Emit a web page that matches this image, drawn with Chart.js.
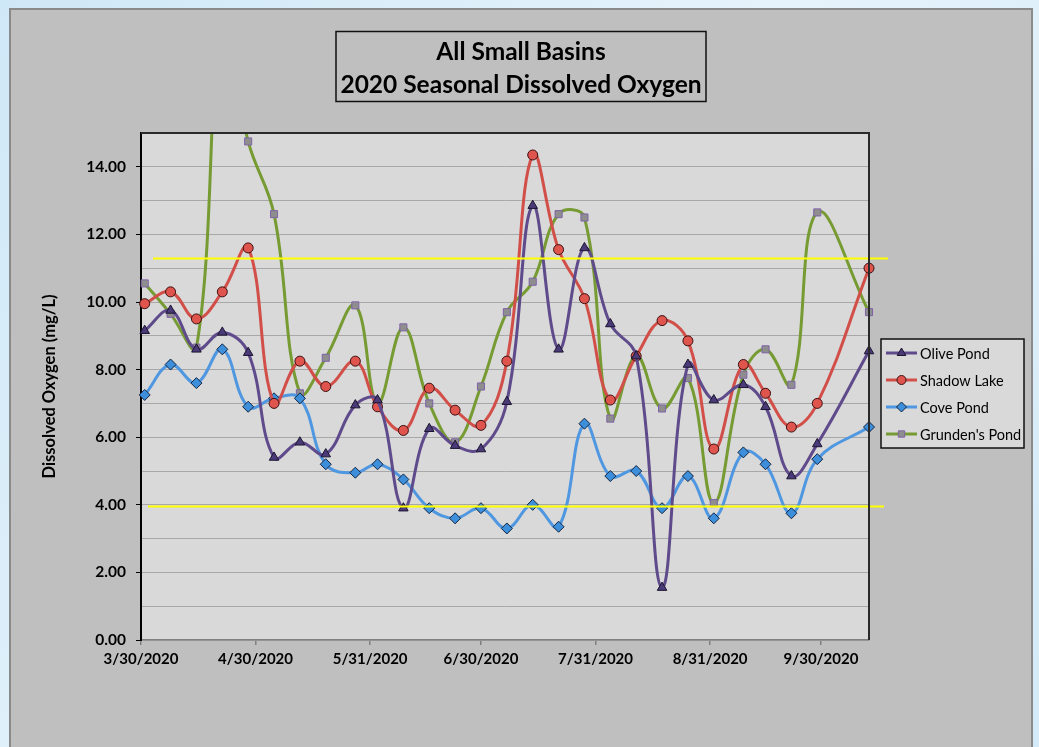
<!DOCTYPE html>
<html><head><meta charset="utf-8">
<script src="https://cdn.jsdelivr.net/npm/chart.js@4/dist/chart.umd.min.js"></script>
<style>html,body{margin:0;padding:0;background:#dceefa;overflow:hidden}</style>
</head><body>
<canvas id="c" width="1039" height="747"></canvas>
<script>
// ---- data ----
const sampleDates = ['2020-03-31','2020-04-07','2020-04-14','2020-04-21','2020-04-28','2020-05-05','2020-05-12','2020-05-19','2020-05-27','2020-06-02','2020-06-09','2020-06-16','2020-06-23','2020-06-30','2020-07-07','2020-07-14','2020-07-21','2020-07-28','2020-08-04','2020-08-11','2020-08-18','2020-08-25','2020-09-01','2020-09-09','2020-09-15','2020-09-22','2020-09-29','2020-10-13'];
const olivePond = [9.15, 9.75, 8.6, 9.1, 8.5, 5.4, 5.85, 5.5, 6.95, 7.1, 3.9, 6.25, 5.75, 5.65, 7.05, 12.85, 8.6, 11.6, 9.35, 8.4, 1.55, 8.15, 7.1, 7.55, 6.9, 4.85, 5.8, 8.55];
const shadowLake = [9.95, 10.3, 9.5, 10.3, 11.6, 7.0, 8.25, 7.5, 8.25, 6.9, 6.2, 7.45, 6.8, 6.35, 8.25, 14.35, 11.55, 10.1, 7.1, 8.4, 9.45, 8.85, 5.65, 8.15, 7.3, 6.3, 7.0, 11.0];
const covePond = [7.25, 8.15, 7.6, 8.6, 6.9, 7.15, 7.15, 5.2, 4.95, 5.2, 4.75, 3.9, 3.6, 3.9, 3.3, 4.0, 3.35, 6.4, 4.85, 5.0, 3.9, 4.85, 3.6, 5.55, 5.2, 3.75, 5.35, 6.3];
const grundensPond = [10.55, 9.65, 8.65, 18.5, 14.75, 12.6, 7.3, 8.35, 9.9, 7.0, 9.25, 7.0, 5.85, 7.5, 9.7, 10.6, 12.6, 12.5, 6.55, 8.4, 6.85, 7.75, 4.05, 7.85, 8.6, 7.55, 12.65, 9.7];
const seriesNames = ['Olive Pond', 'Shadow Lake', 'Cove Pond', "Grunden's Pond"];
const tickDates = ['2020-03-30','2020-04-30','2020-05-31','2020-06-30','2020-07-31','2020-08-31','2020-09-30'];
const tickLabels = ['3/30/2020','4/30/2020','5/31/2020','6/30/2020','7/31/2020','8/31/2020','9/30/2020'];
const axisStart = '2020-03-30';
const axisEnd = '2020-10-13';
const thresholdLevels = [11.3, 3.95];
const titleLines = ['All Small Basins', '2020 Seasonal Dissolved Oxygen'];
const yAxisTitle = 'Dissolved Oxygen (mg/L)';

// ---- helpers ----
function dayOf(s) {
  const p = s.split('-').map(Number);
  const a = axisStart.split('-').map(Number);
  return Math.round((Date.UTC(p[0], p[1]-1, p[2]) - Date.UTC(a[0], a[1]-1, a[2])) / 86400000);
}
const tickDays = tickDates.map(dayOf);
function pts(vals) { return sampleDates.map((d, i) => ({x: dayOf(d), y: vals[i]})); }

const styles = [
  {line:'#5f4b8b', fill:'#4a3a78', border:'#1c1530', style:'triangle', r:5.5},
  {line:'#d24f49', fill:'#e0544e', border:'#3a1212', style:'circle', r:5},
  {line:'#4f97e0', fill:'#3d8fdc', border:'#14253f', style:'rectRot', r:5.5},
  {line:'#779b33', fill:'#8e8e8e', border:'#7f62a8', style:'rect', r:5}
];
const seriesValues = [olivePond, shadowLake, covePond, grundensPond];

const datasets = seriesValues.map((vals, i) => ({
  label: seriesNames[i],
  data: pts(vals),
  borderColor: styles[i].line,
  backgroundColor: styles[i].fill,
  borderWidth: 3,
  tension: 0.4,
  capBezierPoints: false,
  pointStyle: styles[i].style,
  pointRadius: styles[i].r,
  pointBackgroundColor: styles[i].fill,
  pointBorderColor: styles[i].border,
  pointBorderWidth: 1,
  clip: {left: 10, right: 10, top: 0, bottom: 10}
}));

const FONT = 'Lato, "Open Sans", sans-serif';

const decor = {
  id: 'decor',
  beforeDraw(chart) {
    const ctx = chart.ctx, W = chart.width, H = chart.height, a = chart.chartArea;
    ctx.save();
    const g = ctx.createLinearGradient(0, 0, W, H);
    g.addColorStop(0, '#cfe8f7'); g.addColorStop(0.5, '#e6f3fb'); g.addColorStop(1, '#d3eaf8');
    ctx.fillStyle = g; ctx.fillRect(0, 0, W, H);
    ctx.fillStyle = '#bfbfbf'; ctx.fillRect(10, 9, 1022, H);
    ctx.strokeStyle = '#8a8a8a'; ctx.lineWidth = 2; ctx.strokeRect(10, 9, 1022, H + 10);
    ctx.fillStyle = '#d9d9d9'; ctx.fillRect(a.left, a.top, a.right - a.left, a.bottom - a.top);
    ctx.restore();
  },
  afterDatasetsDraw(chart) {
    const ctx = chart.ctx, a = chart.chartArea, ys = chart.scales.y;
    ctx.save();
    ctx.strokeStyle = '#ffff00'; ctx.lineWidth = 2;
    const ext = [[12, 19], [7, 15]];
    thresholdLevels.forEach((v, i) => {
      const y = Math.round(ys.getPixelForValue(v)) + 0.5;
      ctx.beginPath(); ctx.moveTo(a.left + ext[i][0], y); ctx.lineTo(a.right + ext[i][1], y); ctx.stroke();
    });
    ctx.restore();
  },
  afterDraw(chart) {
    const ctx = chart.ctx, a = chart.chartArea;
    ctx.save();
    // plot border top/right
    ctx.strokeStyle = '#2a2a2a'; ctx.lineWidth = 2;
    ctx.beginPath(); ctx.moveTo(a.left, a.top); ctx.lineTo(a.right, a.top); ctx.lineTo(a.right, a.bottom); ctx.stroke();
    // title box
    const cx = 521;
    ctx.strokeStyle = '#111'; ctx.lineWidth = 1.5;
    ctx.strokeRect(336, 31.5, 370, 70);
    ctx.fillStyle = '#000'; ctx.textAlign = 'center'; ctx.textBaseline = 'middle';
    ctx.font = 'bold 24.5px ' + FONT;
    ctx.fillText(titleLines[0], cx, 52);
    ctx.fillText(titleLines[1], cx, 85);
    // legend
    const lx = a.right + 12, ly = a.top + 206, lw = 143, lh = 109;
    ctx.fillStyle = '#d9d9d9'; ctx.fillRect(lx, ly, lw, lh);
    ctx.strokeStyle = '#111'; ctx.lineWidth = 1.5; ctx.strokeRect(lx, ly, lw, lh);
    ctx.font = '14.5px ' + FONT; ctx.textAlign = 'left';
    chart.data.datasets.forEach((ds, i) => {
      const y = ly + 14 + i * 27;
      ctx.strokeStyle = ds.borderColor; ctx.lineWidth = 3;
      ctx.beginPath(); ctx.moveTo(lx + 5, y); ctx.lineTo(lx + 36, y); ctx.stroke();
      ctx.fillStyle = ds.pointBackgroundColor; ctx.strokeStyle = ds.pointBorderColor; ctx.lineWidth = 1;
      Chart.helpers.drawPoint(ctx, {pointStyle: ds.pointStyle, radius: ds.pointRadius - 0.5, rotation: 0, borderWidth: 1}, lx + 20.5, y);
      ctx.fillStyle = '#000';
      ctx.fillText(ds.label, lx + 39, y + 1);
    });
    ctx.restore();
  }
};

new Chart(document.getElementById('c'), {
  type: 'line',
  data: {datasets},
  plugins: [decor],
  options: {
    responsive: false,
    animation: false,
    events: [],
    layout: {padding: {left: 36, right: 170, top: 133, bottom: 77}},
    plugins: {legend: {display: false}, title: {display: false}, tooltip: {enabled: false}},
    scales: {
      x: {
        type: 'linear',
        min: dayOf(axisStart),
        max: dayOf(axisEnd),
        afterBuildTicks: (s) => { s.ticks = tickDays.map(v => ({value: v})); },
        afterFit: (s) => { s.height = 30; },
        ticks: {
          autoSkip: false, maxRotation: 0, minRotation: 0, padding: 5, color: '#000',
          font: {family: FONT, size: 15, weight: 'bold'},
          callback: (v) => { const k = tickDays.indexOf(v); return k >= 0 ? tickLabels[k] : ''; }
        },
        grid: {drawOnChartArea: false, tickLength: 5, color: '#808080', lineWidth: 1.5},
        border: {color: '#808080', width: 1.5}
      },
      y: {
        min: 0, max: 15,
        afterFit: (s) => { s.width = 105; },
        ticks: {
          stepSize: 1, autoSkip: false, padding: 10, color: '#000',
          font: {family: FONT, size: 15.5, weight: 'bold'},
          callback: (v) => (v % 2 === 0 ? v.toFixed(2) : '')
        },
        grid: {
          color: '#a8a8a8', lineWidth: 1, tickLength: 5,
          tickColor: (c) => (c.tick && c.tick.value % 2 === 0 ? '#000' : 'rgba(0,0,0,0)')
        },
        border: {color: '#000', width: 2},
        title: {display: true, text: yAxisTitle, color: '#000', font: {family: FONT, size: 16.5, weight: 'bold'}, padding: {top: 4, bottom: 4}}
      }
    }
  }
});
</script>
</body></html>
